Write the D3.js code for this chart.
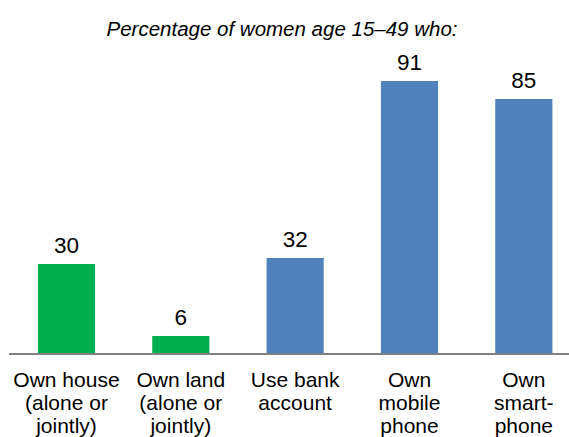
<!DOCTYPE html>
<html>
<head>
<meta charset="utf-8">
<script src="https://cdn.jsdelivr.net/npm/d3@7"></script>
<style>
  html, body { margin: 0; padding: 0; background: #fff; }
  svg { display: block; }
  text { font-family: "Liberation Sans", Arial, sans-serif; fill: #000; }
</style>
</head>
<body>
<script>
const title = "Percentage of women age 15\u201349 who:";
const categories = ["house", "land", "bank", "mobile", "smart"];
const categoryLabels = [
  ["Own house", "(alone or", "jointly)"],
  ["Own land", "(alone or", "jointly)"],
  ["Use bank", "account"],
  ["Own", "mobile", "phone"],
  ["Own", "smart-", "phone"]
];
const values = [30, 6, 32, 91, 85];
const barColors = ["#00B050", "#00B050", "#4F81BD", "#4F81BD", "#4F81BD"];

const W = 569, H = 437;
const svg = d3.select("body").append("svg").attr("width", W).attr("height", H);

const x = d3.scaleBand().domain(categories).range([9.3, 581]).paddingInner(0.5).paddingOuter(0.25);
const y = d3.scaleLinear().domain([0, 100]).range([354, 54]);

svg.append("text")
  .attr("x", 282).attr("y", 36)
  .attr("text-anchor", "middle")
  .style("font-size", "20.5px").style("font-style", "italic")
  .text(title);

svg.selectAll("rect.bar").data(values).enter().append("rect")
  .attr("class", "bar")
  .attr("x", (d, i) => x(categories[i]))
  .attr("width", x.bandwidth())
  .attr("y", d => y(d))
  .attr("height", d => y(0) - y(d))
  .attr("fill", (d, i) => barColors[i]);

svg.selectAll("text.val").data(values).enter().append("text")
  .attr("class", "val")
  .attr("x", (d, i) => x(categories[i]) + x.bandwidth() / 2)
  .attr("y", d => y(d) - 11)
  .attr("text-anchor", "middle")
  .style("font-size", "22.5px")
  .text(d => d);

svg.append("line")
  .attr("x1", 9).attr("x2", W)
  .attr("y1", y(0)).attr("y2", y(0))
  .attr("stroke", "#808080").attr("stroke-width", 2);

const lab = svg.selectAll("text.cat").data(categoryLabels).enter().append("text")
  .attr("class", "cat")
  .attr("text-anchor", "middle")
  .style("font-size", "21px");
lab.selectAll("tspan").data((d, i) => d.map(t => ({t, i}))).enter().append("tspan")
  .attr("x", d => x(categories[d.i]) + x.bandwidth() / 2)
  .attr("y", (d, j) => 387 + j * 23)
  .text(d => d.t);
</script>
</body>
</html>
